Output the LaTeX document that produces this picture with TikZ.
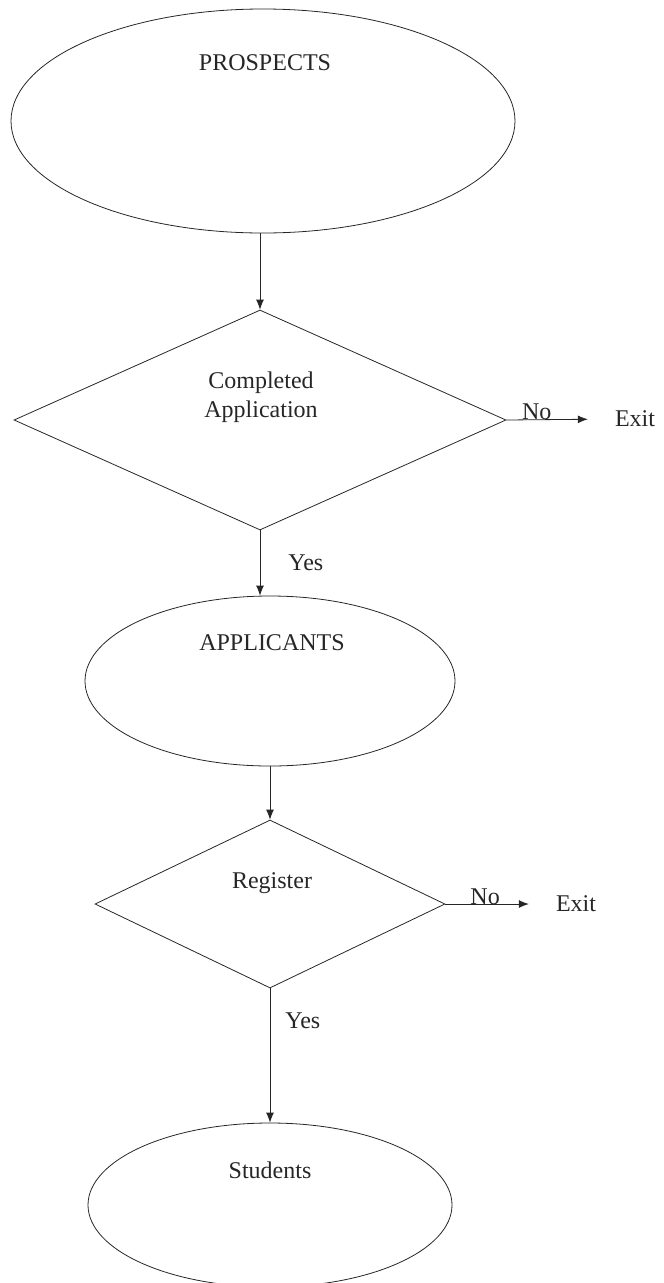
\documentclass[tikz,border=0pt]{standalone}
\usepackage{fontspec}
\setmainfont{Liberation Serif}
\usetikzlibrary{shapes.geometric,arrows.meta}
\begin{document}
\begin{tikzpicture}[x=1pt,y=-1pt,
  ink/.style={draw=black!85,line width=0.8pt},
  oval/.style={ink,ellipse,inner sep=0pt},
  choice/.style={ink,diamond,inner sep=0pt},
  txt/.style={font=\fontsize{24}{29}\selectfont,text=black!85,inner sep=0pt},
  arr/.style={ink,-{Latex[length=10pt,width=8pt]}}]
\useasboundingbox (0,0) rectangle (664,1283);
\clip (0,0) rectangle (664,1283);

% states and decisions
\node[oval,minimum width=504pt,minimum height=224pt] (e1) at (263,121) {};
\node[txt] (t1) at (265,63) {PROSPECTS};

\node[choice,minimum width=492pt,minimum height=220pt] (d1) at (260,420) {};
\node[txt,align=center] (t2) at (261,397) {Completed\\Application};

\node[oval,minimum width=370pt,minimum height=170pt] (e2) at (270,681) {};
\node[txt] (t3) at (272,643) {APPLICANTS};

\node[choice,minimum width=350pt,minimum height=168pt] (d2) at (270,904) {};
\node[txt] (t4) at (272,883) {Register};

\node[oval,minimum width=364pt,minimum height=164pt] (e3) at (270,1205) {};
\node[txt] (t5) at (270,1170) {Students};

% exits
\node[txt] (x1) at (635,419) {Exit};
\node[txt] (x2) at (576,904) {Exit};

% connectors
\draw[arr] (e1.south -| d1.north) -- (d1.north);
\draw[arr] (d1.south) -- (d1.south |- e2.north) node[txt,pos=0.5,right=28pt] (y1) {Yes};
\draw[arr] (e2.south) -- (d2.north);
\draw[arr] (d2.south) -- (e3.north) node[txt,pos=0.24,right=15pt] (y2) {Yes};
\draw[arr,shorten >=27pt] (d1.east) -- (x1.west) node[txt,pos=0.28,anchor=base] (n1) {No};
\draw[arr,shorten >=27pt] (d2.east) -- (x2.west) node[txt,pos=0.36,anchor=base] (n2) {No};
\end{tikzpicture}
\end{document}
